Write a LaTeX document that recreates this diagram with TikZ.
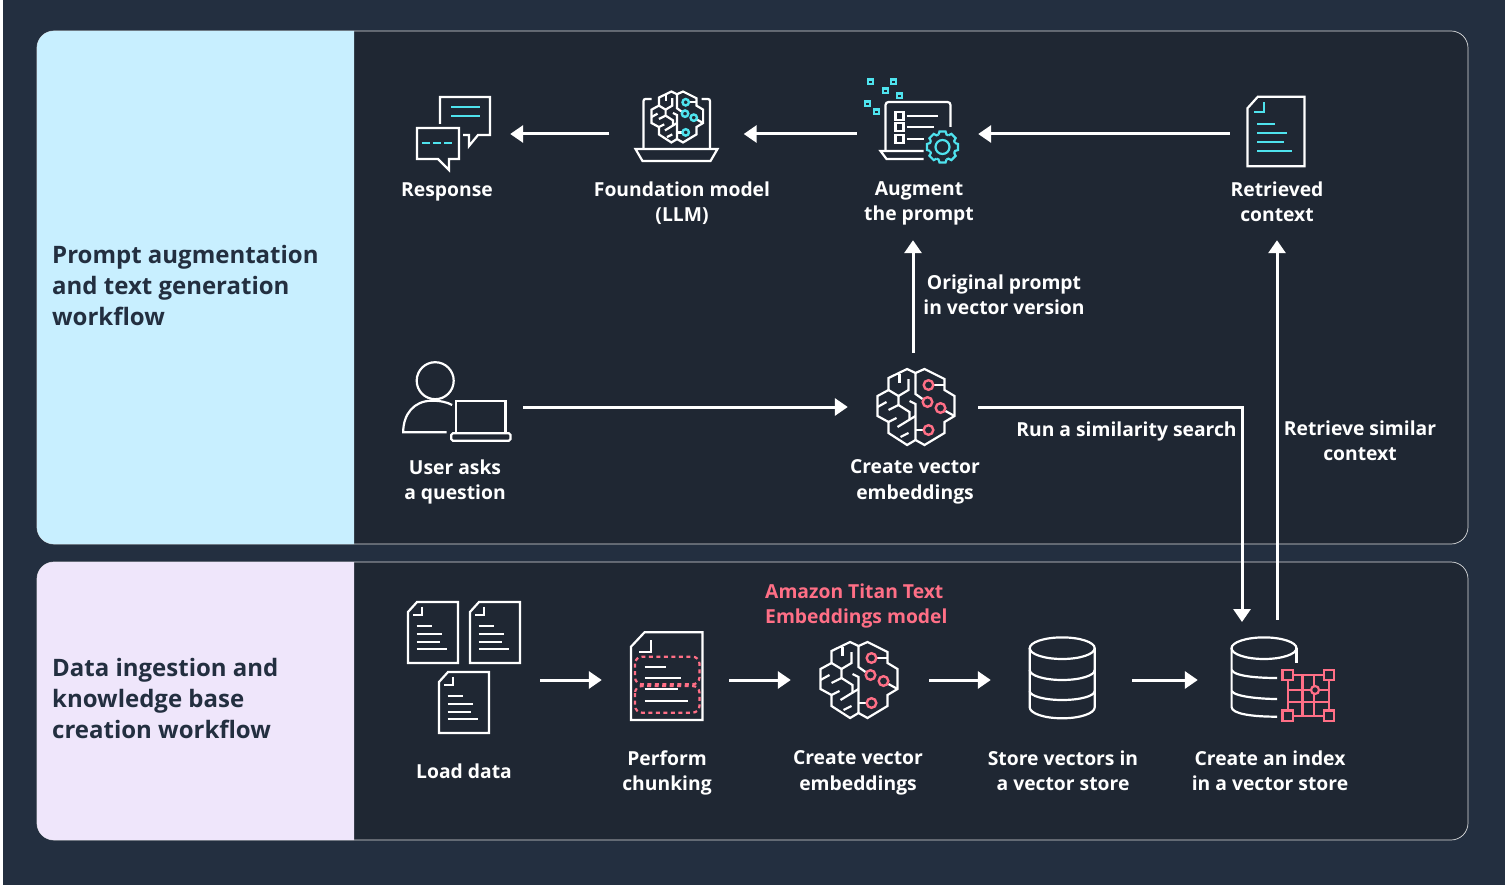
\documentclass[tikz,border=0pt]{standalone}
\usepackage{fontspec}
\setmainfont{Open Sans}
\usetikzlibrary{positioning,arrows.meta}

\definecolor{pagebg}{HTML}{232F40}
\definecolor{panelbg}{HTML}{1F2733}
\definecolor{promptbg}{HTML}{C8EFFF}
\definecolor{ingestbg}{HTML}{EFE6FB}
\definecolor{accentcyan}{HTML}{4FE3EE}
\definecolor{accentpink}{HTML}{FF6F86}

\tikzset{
    iconline/.style={line width=2.2pt,white,line join=miter},
    iconbox/.style={inner sep=0pt,minimum height=108pt},
    steptext/.style={text=white,font=\fontsize{19.3}{25.5}\selectfont\bfseries,align=center,inner sep=0pt},
    flowtitle/.style={text=pagebg,font=\fontsize{24}{31}\selectfont\bfseries,align=left,anchor=west,inner sep=0pt},
    flowarrow/.style={white,line width=3pt,-{Triangle[length=13pt,width=17pt]}},
    pics/brainicon/.style={code={
        \draw[iconline] (0,-34) -- (-8.4,-38) -- (-27,-29) -- (-27,-17) -- (-38,-11) -- (-38,9) -- (-27,15) -- (-27,26) -- (-8.4,38) -- (0,33)
            -- (9,38) -- (29,26) -- (29,15) -- (39,9) -- (39,-11) -- (29,-17) -- (29,-28) -- (9,-38) -- cycle;
        \draw[iconline] (0,-34) -- (0,-13) -- (7,-8);
        \draw[iconline] (0,33) -- (0,-3) -- (-6,-6);
        \draw[iconline] (-16,-33) -- (-16,-24);
        \draw[iconline] (-7,-28) -- (-7,-17) -- (-17,-11);
        \draw[iconline] (-27,-17) -- (-17,-11) -- (-17,-2) -- (-6,5) -- (-6,13);
        \draw[iconline] (-17,-2) -- (-27,3);
        \draw[iconline] (-38,0) -- (-29,-5);
        \draw[iconline] (-27,15) -- (-19,11);
        \draw[iconline] (-18,20) -- (0,9);
        \draw[iconline] (-15,30) -- (-7,26);
        \draw[iconline] (0,23) -- (8,23);
        \draw[iconline] (18,-22) -- (29,-22);
        \draw[iconline] (30,4) -- (39,9);
        \draw[line width=2.4pt,#1] (13,-22) circle (4.8) (12,-5) circle (4.8) (25,1) circle (4.8) (13,23) circle (4.8);
    }},
    pics/docicon/.style={code={
        \draw[iconline] (-25,-20) -- (-16,-30) -- (25,-30) -- (25,31) -- (-25,31) -- cycle;
        \draw[iconline,#1] (-10.7,-25.3) -- (-10.7,-17) -- (-19.7,-17);
        \draw[iconline,#1] (-16.3,-6) -- (-1.3,-6) (-16.3,1.7) -- (9.3,1.7) (-16.3,9.7) -- (7,9.7) (-16.3,17.3) -- (14.3,17.3);
    }},
    pics/dbicon/.style={code={
        \draw[iconline] (0.7,-31.8) ellipse [x radius=32.5,y radius=10.8];
        \draw[iconline] (-31.8,-31.8) -- (-31.8,27.3) arc [start angle=180,end angle=0,x radius=32.5,y radius=11] -- (33.2,-31.8);
        \draw[iconline] (-31.8,-10) arc [start angle=180,end angle=0,x radius=32.5,y radius=10];
        \draw[iconline] (-31.8,11) arc [start angle=180,end angle=0,x radius=32.5,y radius=9];
    }},
}

\begin{document}
\begin{tikzpicture}[x=1pt,y=-1pt,on grid]
    \useasboundingbox (0,0) rectangle (1509,885);
    \fill[pagebg] (3,0) rectangle (1505,885);

    % panels
    \draw[panelbg,fill=panelbg,rounded corners=17pt] (37,31) rectangle (1468,544);
    \draw[panelbg,fill=panelbg,rounded corners=17pt] (37,562) rectangle (1468,840);
    \draw[white!85!panelbg,line width=.7pt,rounded corners=17pt] (37,31) rectangle (1468,544);
    \draw[white!85!panelbg,line width=.7pt,rounded corners=17pt] (37,562) rectangle (1468,840);
    \fill[promptbg] (354,31) [rounded corners=17pt] -- (37,31) -- (37,544) [sharp corners] -- (354,544) -- cycle;
    \fill[ingestbg] (354,562) [rounded corners=17pt] -- (37,562) -- (37,840) [sharp corners] -- (354,840) -- cycle;

    \node[flowtitle] (prompttitle) at (52,285) {Prompt augmentation\\and text generation\\workflow};
    \node[flowtitle] (ingesttitle) at (52,698) {Data ingestion and\\knowledge base\\creation workflow};

    % top row, right to left
    \node[iconbox,minimum width=92pt] (retrieved) at (1276,134) {};
    \node[iconbox,minimum width=121pt] (augment) [left=358.5pt of retrieved] {};
    \node[iconbox,minimum width=134pt] (llm) [left=241pt of augment] {};
    \node[iconbox,minimum width=114pt] (response) [left=223.5pt of llm] {};

    \node[steptext] (responsetext) [below=58pt of response,xshift=-6pt] {Response};
    \node[steptext] (llmtext) [below=69pt of llm,xshift=5.5pt] {Foundation model\\(LLM)};
    \node[steptext,minimum height=73pt] (augmenttext) [below=69.5pt of augment,xshift=1.5pt] {Augment\\the prompt};
    \node[steptext,minimum height=76pt] (retrievedtext) [below=68pt of retrieved,xshift=1pt] {Retrieved\\context};

    % middle row
    \node[iconbox,minimum width=132pt] (user) at (457,407) {};
    \node[iconbox,minimum width=130pt] (embedquery) at (913,407) {};
    \node[steptext] (usertext) [below=75pt of user,xshift=-2pt] {User asks\\a question};
    \node[steptext] (embedquerytext) [below=75pt of embedquery,xshift=2pt] {Create vector\\embeddings};
    \node[steptext] (vectortext) at (1004,295) {Original prompt\\in vector version};
    \node[steptext] (searchtext) at (1126.5,431) {Run a similarity search};
    \node[steptext] (similartext) at (1360,441) {Retrieve similar\\context};

    % bottom row
    \node[iconbox,minimum width=152pt] (load) at (464,680) {};
    \node[iconbox,minimum width=127pt] (chunk) [right=201.5pt of load] {};
    \node[iconbox,minimum width=138pt] (embeddoc) [right=194.5pt of chunk] {};
    \node[iconbox,minimum width=141pt] (store) [right=201.5pt of embeddoc] {};
    \node[iconbox,minimum width=170pt,minimum height=120pt] (index) [right=221.5pt of store] {};
    \coordinate (indexin) at (1242,622);

    \node[steptext] (loadtext) [below=91pt of load] {Load data};
    \node[steptext] (chunktext) [below=93pt of chunk,xshift=1.5pt] {Perform\\chunking};
    \node[steptext] (embeddoctext) [below=93pt of embeddoc,xshift=-2pt] {Create vector\\embeddings};
    \node[steptext] (storetext) [below=91pt of store,xshift=1.5pt] {Store vectors in\\a vector store};
    \node[steptext] (indextext) [below=91pt of index,xshift=-13pt] {Create an index\\in a vector store};
    \node[steptext,text=accentpink,align=left,anchor=west] (titantext) at (765,606) {Amazon Titan Text\\Embeddings model};

    % response icon
    \begin{scope}[shift={(response)}]
        \draw[iconline] (-13,-10) -- (-13,-37) -- (37,-37) -- (37,1) -- (25,1) -- (16,12) -- (16,1) -- (10,1);
        \draw[iconline] (-36,-6) -- (6,-6) -- (6,25) -- (-4,25) -- (-4,36) -- (-15,25) -- (-36,25) -- cycle;
        \draw[iconline,accentcyan] (-2,-27) -- (27,-27) (-2,-18) -- (27,-18);
        \draw[iconline,accentcyan,dash pattern=on 8pt off 3pt] (-31,9) -- (-1,9);
    \end{scope}

    % model icon
    \begin{scope}[shift={(llm)}]
        \pic[scale=.67] at (0.5,-17) {brainicon=accentcyan};
        \draw[iconline,rounded corners=2pt] (-33,15) -- (-33,-35) -- (-25,-35);
        \draw[iconline,rounded corners=2pt] (25,-35) -- (33.5,-35) -- (33.5,15);
        \draw[iconline] (-41,15) -- (41,15) -- (34,27) -- (-34,27) -- cycle;
    \end{scope}

    % augment icon
    \begin{scope}[shift={(augment)}]
        \foreach \dx/\dy in {-47/-52,-24/-52,-32/-43,-18/-38,-50/-30,-41/-22}
            \draw[accentcyan,line width=2.2pt,fill=panelbg] (\dx-2.4,\dy-2.4) rectangle (\dx+2.4,\dy+2.4);
        \draw[iconline,rounded corners=3pt] (-32,16) -- (-32,-32) -- (33,-32) -- (33,-7);
        \draw[iconline] (6,17) -- (-37,17) -- (-31,25) -- (6,25);
        \foreach \dy/\len in {-18/20,-7/16,5/6} {
            \draw[iconline] (-22,\dy-4) rectangle (-14,\dy+4);
            \draw[iconline] (-11,\dy) -- (\len,\dy);
        }
        \begin{scope}[shift={(25,13)}]
            \draw[iconline,accentcyan] (0,0) circle (7);
            \foreach \a in {0,45,...,315}
                \draw[iconline,accentcyan,rotate=\a] (-17.7:13.1) -- (-11:15.8) -- (11:15.8) -- (17.7:13.1) -- (27.3:13.1);
        \end{scope}
    \end{scope}

    % retrieved doc
    \pic[scale=1.14] at ([yshift=3pt]retrieved.center) {docicon=accentcyan};

    % user icon
    \begin{scope}[shift={(user)}]
        \draw[iconline] (-21.8,-26.3) circle (18.5);
        \draw[iconline] (-10.5,25.3) -- (-53.8,25.3) .. controls (-53.8,7) and (-43,-6) .. (-25.6,-6.3) .. controls (-17,-6.3) and (-10,-5) .. (-4.9,-2);
        \draw[iconline] (-1.1,26) -- (-1.1,-6.3) -- (48.5,-6.3) -- (48.5,26);
        \draw[iconline,rounded corners=1.5pt] (-5.7,26.3) rectangle (53.4,33.7);
    \end{scope}

    % query brain
    \pic at ([xshift=2.5pt]embedquery.center) {brainicon=accentpink};

    % load docs
    \pic at ([shift={(-31pt,48pt)}]load.center) {docicon=white};
    \pic at ([shift={(31pt,48pt)}]load.center) {docicon=white};
    \pic at ([yshift=-22pt]load.center) {docicon=white};

    % chunk doc
    \begin{scope}[shift={(chunk)}]
        \draw[iconline] (-34.5,-33.3) -- (-21,-47.7) -- (37,-47.7) -- (37,40) -- (-34.5,40) -- cycle;
        \draw[iconline] (-14.5,-40) -- (-14.5,-28.3) -- (-27,-28.3);
        \draw[iconline] (-21,-12.7) -- (0,-12.7) (-21,-1.7) -- (15,-1.7) (-21,9.3) -- (12,9.3) (-21,20.7) -- (22,20.7);
        \draw[iconline,accentpink,dash pattern=on 4pt off 3.5pt,rounded corners=7pt] (-30.5,-23.3) rectangle (34,4.3);
        \draw[iconline,accentpink,dash pattern=on 4pt off 3.5pt,rounded corners=7pt] (-30.5,6) rectangle (34,32.7);
    \end{scope}

    % doc brain
    \pic at ([xshift=-1.5pt]embeddoc.center) {brainicon=accentpink};

    % store
    \pic at (store) {dbicon};

    % index icon
    \begin{scope}[shift={(index)}]
        \draw[iconline] (-19,-31.8) ellipse [x radius=32.5,y radius=10.8];
        \draw[iconline] (13.5,-31.8) -- (13.5,-17);
        \draw[iconline] (-6,36.7) .. controls (-30,36.7) and (-51.4,34) .. (-51.4,27) -- (-51.4,-31.8);
        \draw[iconline] (-51.4,-10) .. controls (-48,-3) and (-20,-2) .. (-6,-2);
        \draw[iconline] (-51.4,11) .. controls (-48,17) and (-20,19) .. (-6,19);
        \draw[iconline,accentpink] (4.7,-5) rectangle (45.8,35.7);
        \foreach \gx in {19.5,31} \draw[iconline,accentpink] (\gx,-5) -- (\gx,35.7);
        \foreach \gy in {10,21.7} \draw[iconline,accentpink] (4.7,\gy) -- (45.8,\gy);
        \foreach \gx in {4.7,45.8} \foreach \gy in {-5,35.7}
            \draw[iconline,accentpink,fill=panelbg] (\gx-5.2,\gy-5.2) rectangle (\gx+5.2,\gy+5.2);
        \draw[iconline,accentpink,fill=panelbg] (32,10) circle (4);
    \end{scope}

    % connectors
    \path[flowarrow]
    (retrieved.west) edge (augment.east)
    (augment.west) edge (llm.east)
    (llm.west) edge (response.east)
    (user.east) edge (embedquery.west)
    (load.east) edge (chunk.west)
    (chunk.east) edge (embeddoc.west)
    (embeddoc.east) edge (store.west)
    (store.east) edge (index.west)
    (embedquery.north) edge (embedquery.north |- augmenttext.south)
    (index.north -| retrievedtext.south) edge (retrievedtext.south);
    \draw[flowarrow] (embedquery.east) -| (indexin);
\end{tikzpicture}
\end{document}
